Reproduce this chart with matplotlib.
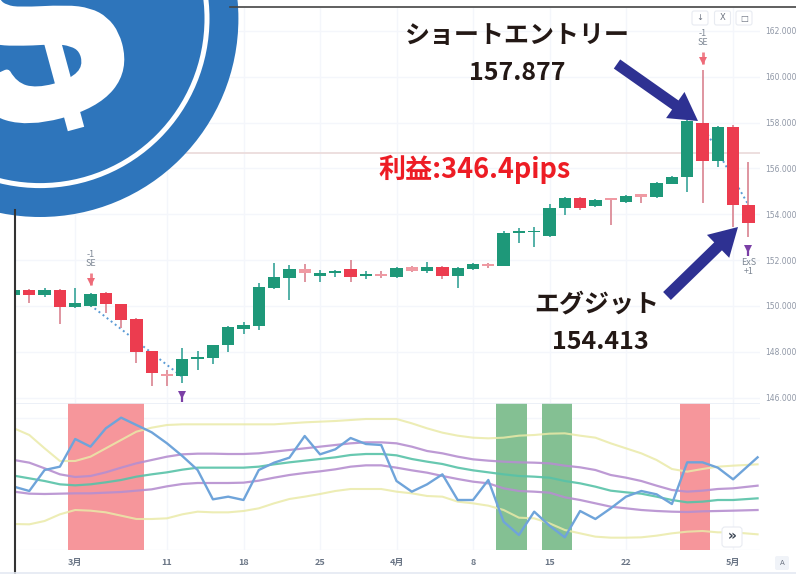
import matplotlib
matplotlib.use("Agg")
import matplotlib.pyplot as plt
import matplotlib.patheffects as pe
from matplotlib.patches import Circle, FancyBboxPatch
from matplotlib.lines import Line2D

plt.rcParams['font.family'] = ['Noto Sans CJK JP', 'DejaVu Sans']

# ---- data ----
opens = [150.47,150.69,150.47,150.71,149.94,149.99,150.56,150.08,149.42,148.02,147.02,146.93,147.67,147.72,148.28,148.98,149.11,150.77,151.21,151.60,151.30,151.43,151.60,151.30,151.39,151.25,151.69,151.52,151.69,151.30,151.60,151.82,151.74,153.18,153.22,153.05,154.27,154.70,154.36,154.70,154.53,154.88,154.75,155.32,155.62,157.98,156.32,157.81,154.40]
closes = [150.69,150.47,150.69,149.96,150.12,150.51,150.08,149.38,147.98,147.06,146.93,147.67,147.76,148.28,149.07,149.16,150.82,151.25,151.60,151.43,151.43,151.52,151.25,151.39,151.30,151.65,151.52,151.69,151.30,151.65,151.82,151.74,153.18,153.27,153.27,154.27,154.70,154.27,154.62,154.62,154.79,154.75,155.36,155.62,158.07,156.32,157.81,154.40,153.61]
highs = [150.74,150.72,150.77,150.73,150.77,150.55,150.60,150.10,149.45,148.05,147.19,148.15,148.02,148.30,149.10,149.29,150.99,151.87,151.78,151.82,151.56,151.56,152.00,151.50,151.50,151.70,151.75,151.91,151.75,151.69,151.88,151.88,153.25,153.40,153.44,154.44,154.75,154.75,154.66,154.72,154.82,154.90,155.40,155.65,158.10,160.30,157.85,157.90,156.28]
lows = [150.45,150.12,150.38,149.20,149.90,149.94,149.68,149.03,147.50,146.49,146.49,146.63,147.19,147.46,147.98,148.77,148.94,150.73,150.25,151.04,151.04,151.25,151.04,151.17,151.20,151.20,151.47,151.43,151.17,150.77,151.58,151.65,151.72,152.74,152.56,153.00,153.96,154.18,154.33,153.53,154.50,154.49,154.72,155.30,154.97,154.49,156.06,153.44,153.00]

osc_x = list(range(48)) + [48.6]
osc_line = [190,177,240,250,333,310,365,397,375,353,320,282,240,152,160,150,240,262,277,342,287,302,336,318,315,207,175,197,227,150,150,210,85,45,115,73,38,117,93,125,160,177,167,138,263,263,247,212,278]
band_top = [365,345,305,267,267,280,305,330,355,367,375,377,377,377,377,377,377,377,380,383,385,387,390,393,393,393,380,365,352,343,337,335,337,343,345,349,350,343,337,320,305,290,270,243,235,243,250,253,257]
band_upper = [270,262,245,227,219,222,233,247,260,270,280,287,289,289,288,288,290,295,300,305,310,315,320,323,323,320,310,297,290,280,272,268,265,263,262,260,253,248,240,225,217,207,193,180,175,178,183,185,193]
band_mid = [223,215,207,197,194,197,203,210,220,227,233,241,247,247,247,247,250,257,263,268,273,278,285,288,288,284,273,265,258,247,239,233,227,222,220,217,207,200,190,178,173,169,160,150,143,145,150,150,155]
band_lower = [175,169,168,169,170,170,172,174,178,182,191,198,201,201,201,202,208,217,225,231,236,242,250,254,254,247,239,232,222,213,205,200,185,177,175,172,158,150,140,130,125,120,117,115,114,116,117,118,120]
band_bottom = [78,77,87,107,120,118,113,103,93,93,95,107,115,113,113,117,125,140,153,160,168,177,183,183,183,175,170,162,160,145,140,133,120,97,95,80,60,50,40,37,37,38,43,50,55,57,53,53,47]

red_spans = [(3.5, 8.5), (43.5, 45.5)]
green_spans = [(31.5, 33.5), (34.5, 36.5)]

price_ticks = [146, 148, 150, 152, 154, 156, 158, 160, 162]
date_ticks = [4, 10, 15, 20, 25, 30, 35, 40, 47]
date_labels = ['3月', '11', '18', '25', '4月', '8', '15', '22', '5月']
osc_grid = [0, 397]

level_price = 156.69
trade1_x, trade1_y = [5, 11], [150.03, 146.90]
trade2_x, trade2_y = [45, 48], [157.88, 154.41]
entry_x, entry_y, entry_txt = [5, 45], [151.17, 160.82], ['-1\nSE', '-1\nSE']
exit_x, exit_y = [11, 48], [146.06, 152.44]

# ---- layout ----
W, H = 796, 574
fig = plt.figure(figsize=(W / 100, H / 100), dpi=100)
fig.patch.set_facecolor('white')
L, R = 16, 760
ax = fig.add_axes([L / W, 1 - 403 / H, (R - L) / W, 395 / H])
ax2 = fig.add_axes([L / W, 1 - 550 / H, (R - L) / W, 147 / H])
xl = ((L - 14) / 15.3, (R - 14) / 15.3)

GRID = '#f4f6fb'
GREEN, RED = '#1e9879', '#ec3c4f'
for a in (ax, ax2):
    a.set_xlim(*xl)
    for s in a.spines.values():
        s.set_visible(False)
    a.set_axisbelow(True)
    a.set_xticks(date_ticks)
    a.grid(True, color=GRID, lw=1)
    a.tick_params(length=0)

# ---- candles ----
ax.set_ylim(145.76, 163.0)
ax.yaxis.tick_right()
ax.set_yticks(price_ticks)
ax.set_yticklabels([f'{p:.3f}' for p in price_ticks], fontsize=5.5, color='#8f97a6',
                   family=['DejaVu Sans'])
ax.tick_params(axis='y', pad=3.5)
ax.tick_params(axis='x', labelbottom=False)
ax.axhline(level_price, color='#ecdcdc', lw=1.3, zorder=1)

ax.plot(trade1_x, trade1_y, ls=':', color='#5b9bd5', lw=1.4, zorder=1.5)
ax.plot(trade2_x, trade2_y, ls=':', color='#5b9bd5', lw=1.4, zorder=1.5)

for i, (o, c, h, l) in enumerate(zip(opens, closes, highs, lows)):
    up = c >= o
    thin = abs(c - o) < 0.2
    body = GREEN if up else ('#f09aa3' if thin else RED)
    ax.vlines(i, l, h, color='#45aaa0' if up else '#dc8c98', lw=1.3, zorder=2)
    ax.bar(i, abs(c - o), bottom=min(o, c), width=0.8, color=body, zorder=3, lw=0)

for x, y, t in zip(entry_x, entry_y, entry_txt):
    ax.vlines(x, y - 0.25, y + 0.25, color='#f0808a', lw=2, zorder=4)
    ax.plot([x], [y - 0.12], marker='v', ms=6, color='#ee6a78', mew=0, zorder=4)
    ax.annotate(t, (x, y), xytext=(0, 8), textcoords='offset points', ha='center',
                va='bottom', fontsize=6.5, color='#7d8794', linespacing=1.0)
for x, y in zip(exit_x, exit_y):
    ax.vlines(x, y - 0.25, y + 0.2, color='#7b3fa6', lw=1.6, zorder=4)
    ax.plot([x], [y + 0.05], marker='v', ms=6, color='#7b3fa6', mew=0, zorder=4)
ax.annotate('ExS\n+1', (exit_x[1], exit_y[1]), xytext=(0, -6), textcoords='offset points',
            ha='center', va='top', fontsize=6.5, color='#7d8794', linespacing=1.0)

# ---- oscillator ----
ax2.set_ylim(0, 441)
ax2.set_yticks(osc_grid)
ax2.set_yticklabels([])
ax2.set_xticklabels(date_labels, fontsize=6.5, color='#6b7686', fontweight='bold')
ax2.tick_params(axis='x', pad=6)
ax2.axhline(441, color='#e9eef6', lw=1.2)
for a0, a1 in red_spans:
    ax2.axvspan(a0, a1, color='#f6969b', lw=0, zorder=1)
for a0, a1 in green_spans:
    ax2.axvspan(a0, a1, color='#84c093', lw=0, zorder=1)
for s in (band_top, band_bottom):
    ax2.plot(osc_x, s, color='#eaeaa8', lw=1.5, alpha=0.85, zorder=2)
for s in (band_upper, band_lower):
    ax2.plot(osc_x, s, color='#b68fd0', lw=1.6, alpha=0.9, zorder=2)
ax2.plot(osc_x, band_mid, color='#58c2a8', lw=1.6, alpha=0.9, zorder=2)
ax2.plot(osc_x, osc_line, color='#6fa4da', lw=1.7, zorder=3)

# ---- overlay: frame, logo, annotations in pixel space ----
ov = fig.add_axes([0, 0, 1, 1], zorder=10)
ov.set_xlim(0, W)
ov.set_ylim(H, 0)
ov.axis('off')
ov.patch.set_alpha(0)

ov.add_line(Line2D([15, 15], [210, H], color='#333333', lw=1.5))
ov.add_line(Line2D([230, W], [7, 7], color='#444444', lw=1.2))
ov.add_line(Line2D([0, W], [572.5, 572.5], color='#e4e9f2', lw=1.2))

BLUE = '#2e75bb'
ov.add_patch(Circle((40, 18.6), 198.4, color=BLUE, lw=0))
ov.add_patch(Circle((40, 18.6), 167, fill=False, ec='white', lw=3.6))
ov.text(43, 49, 'S', fontsize=180, color='white', rotation=15, ha='center', va='center',
        family=['Liberation Sans'], fontweight='bold', clip_on=True,
        path_effects=[pe.withStroke(linewidth=6, foreground='white')])
ov.add_line(Line2D([47, 76], [22, 129], color='white', lw=12.2, solid_capstyle='butt'))

DARK = '#231815'
ov.text(517, 36, 'ショートエントリー', fontsize=18, fontweight='bold', color=DARK, ha='center', va='center')
ov.text(517, 73, '157.877', fontsize=18, fontweight='bold', color=DARK, ha='center', va='center')
ov.text(597, 305, 'エグジット', fontsize=18, fontweight='bold', color=DARK, ha='center', va='center')
ov.text(600, 342, '154.413', fontsize=18, fontweight='bold', color=DARK, ha='center', va='center')
ov.text(475, 169, '利益:346.4pips', fontsize=19.5, fontweight='bold', color='#ed1c24', ha='center', va='center')

ARROW = '#2e3192'
for tip, tail in [((698, 121), (617, 64)), ((738, 227), (667, 296))]:
    ov.annotate('', xy=tip, xytext=tail,
                arrowprops=dict(width=8, headwidth=23, headlength=20, color=ARROW, shrink=0, lw=0))

# chart toolbar buttons
for cx, t in [(700, '↓'), (722.5, 'X'), (744, '□')]:
    ov.add_patch(FancyBboxPatch((cx - 8, 11), 16, 14, boxstyle='round,pad=0,rounding_size=2',
                                fc='white', ec='#e8ebf1', lw=0.8))
    ov.text(cx, 18, t, fontsize=6, color='#6b7280', ha='center', va='center', family=['DejaVu Sans'])
ov.add_patch(FancyBboxPatch((722, 527), 20, 20, boxstyle='round,pad=0,rounding_size=3',
                            fc='white', ec='#e8ebf1', lw=0.8))
ov.text(732, 536, '»', fontsize=10, fontweight='bold', color='#3a4452', ha='center', va='center',
        family=['DejaVu Sans'])
ov.add_patch(FancyBboxPatch((775, 556), 14, 14, boxstyle='round,pad=0,rounding_size=2',
                            fc='#f0f3f8', ec='none'))
ov.text(782, 563, 'A', fontsize=5, color='#6b7280', ha='center', va='center', family=['DejaVu Sans'])

fig.savefig('out.png', dpi=100)
